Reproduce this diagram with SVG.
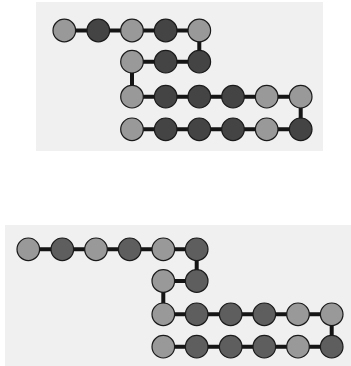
<svg xmlns="http://www.w3.org/2000/svg" width="351" height="366" viewBox="0 0 351 366">
<style>
.bg{fill:#f0f0f0}
.e{stroke:#151515;stroke-width:4;fill:none}
.n{stroke:#1a1a1a;stroke-width:1.2}
.L{fill:#999999}
.D{fill:#444444}
.D2{fill:#5e5e5e}
</style>
<rect width="351" height="366" fill="#ffffff"/>
<rect class="bg" x="36" y="2" width="287" height="149"/>
<rect class="bg" x="5" y="225" width="346" height="141"/>
<g id="connectors">
<path class="e" d="M64.3 30.5H199.3V61.7H132V96.7H300.7V129.3H132"/>
<path class="e" d="M28.3 249.3H196.7V281H163.3V314.3H331.7V346.7H163.3"/>
</g>
<g id="top">
<g id="t1"><circle class="n L" cx="64.3" cy="30.5" r="11.3"/></g>
<g id="t2"><circle class="n D" cx="98.3" cy="30.5" r="11.3"/></g>
<g id="t3"><circle class="n L" cx="132" cy="30.5" r="11.3"/></g>
<g id="t4"><circle class="n D" cx="165.7" cy="30.5" r="11.3"/></g>
<g id="t5"><circle class="n L" cx="199.3" cy="30.5" r="11.3"/></g>
<g id="t6"><circle class="n L" cx="132" cy="61.7" r="11.3"/></g>
<g id="t7"><circle class="n D" cx="165.7" cy="61.7" r="11.3"/></g>
<g id="t8"><circle class="n D" cx="199.3" cy="61.7" r="11.3"/></g>
<g id="t9"><circle class="n L" cx="132" cy="96.7" r="11.3"/></g>
<g id="t10"><circle class="n D" cx="165.7" cy="96.7" r="11.3"/></g>
<g id="t11"><circle class="n D" cx="199.3" cy="96.7" r="11.3"/></g>
<g id="t12"><circle class="n D" cx="233" cy="96.7" r="11.3"/></g>
<g id="t13"><circle class="n L" cx="266.7" cy="96.7" r="11.3"/></g>
<g id="t14"><circle class="n L" cx="300.7" cy="96.7" r="11.3"/></g>
<g id="t15"><circle class="n L" cx="132" cy="129.3" r="11.3"/></g>
<g id="t16"><circle class="n D" cx="165.7" cy="129.3" r="11.3"/></g>
<g id="t17"><circle class="n D" cx="199.3" cy="129.3" r="11.3"/></g>
<g id="t18"><circle class="n D" cx="233" cy="129.3" r="11.3"/></g>
<g id="t19"><circle class="n L" cx="266.7" cy="129.3" r="11.3"/></g>
<g id="t20"><circle class="n D" cx="300.7" cy="129.3" r="11.3"/></g>
</g>
<g id="bottom">
<g id="b1"><circle class="n L" cx="28.3" cy="249.3" r="11.3"/></g>
<g id="b2"><circle class="n D2" cx="62.3" cy="249.3" r="11.3"/></g>
<g id="b3"><circle class="n L" cx="96" cy="249.3" r="11.3"/></g>
<g id="b4"><circle class="n D2" cx="129.7" cy="249.3" r="11.3"/></g>
<g id="b5"><circle class="n L" cx="163.3" cy="249.3" r="11.3"/></g>
<g id="b6"><circle class="n D2" cx="196.7" cy="249.3" r="11.3"/></g>
<g id="b7"><circle class="n L" cx="163.3" cy="281" r="11.3"/></g>
<g id="b8"><circle class="n D2" cx="196.7" cy="281" r="11.3"/></g>
<g id="b9"><circle class="n L" cx="163.3" cy="314.3" r="11.3"/></g>
<g id="b10"><circle class="n D2" cx="196.7" cy="314.3" r="11.3"/></g>
<g id="b11"><circle class="n D2" cx="230.7" cy="314.3" r="11.3"/></g>
<g id="b12"><circle class="n D2" cx="264.3" cy="314.3" r="11.3"/></g>
<g id="b13"><circle class="n L" cx="298" cy="314.3" r="11.3"/></g>
<g id="b14"><circle class="n L" cx="331.7" cy="314.3" r="11.3"/></g>
<g id="b15"><circle class="n L" cx="163.3" cy="346.7" r="11.3"/></g>
<g id="b16"><circle class="n D2" cx="196.7" cy="346.7" r="11.3"/></g>
<g id="b17"><circle class="n D2" cx="230.7" cy="346.7" r="11.3"/></g>
<g id="b18"><circle class="n D2" cx="264.3" cy="346.7" r="11.3"/></g>
<g id="b19"><circle class="n L" cx="298" cy="346.7" r="11.3"/></g>
<g id="b20"><circle class="n D2" cx="331.7" cy="346.7" r="11.3"/></g>
</g>
</svg>
